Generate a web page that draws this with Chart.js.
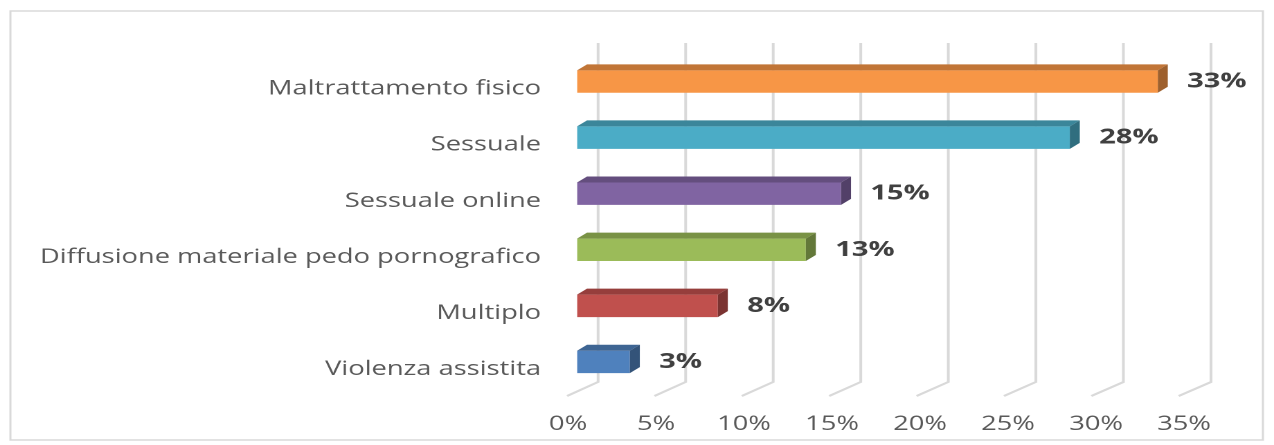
<!DOCTYPE html>
<html lang="it">
  <head>
    <meta charset="UTF-8" />
    <title>Tipologie di abuso</title>
    <script src="https://cdn.jsdelivr.net/npm/chart.js"></script>
    <style>
      body {
        margin: 0;
        background: #fff;
      }
    </style>
  </head>
  <body>
    <!-- il grafico originale e' stirato in orizzontale: si disegna a 920 px e si allarga via CSS -->
    <canvas id="grafico" width="920" height="445" style="width:1274px;height:445px"></canvas>

    <script>
      const categorie = [
        "Maltrattamento fisico",
        "Sessuale",
        "Sessuale online",
        "Diffusione materiale pedo pornografico",
        "Multiplo",
        "Violenza assistita",
      ];
      const percentuali = [33, 28, 15, 13, 8, 3];
      const tacche = [0, 5, 10, 15, 20, 25, 30, 35];
      const colori = ["#F79646", "#4BACC6", "#8064A2", "#9BBB59", "#C0504D", "#4F81BD"];

      function scurisci(hex, f) {
        const n = parseInt(hex.slice(1), 16);
        const r = Math.round(((n >> 16) & 255) * f);
        const g = Math.round(((n >> 8) & 255) * f);
        const b = Math.round((n & 255) * f);
        return "rgb(" + r + "," + g + "," + b + ")";
      }

      // profondita' del finto 3D (unita' interne del canvas)
      const DX = 7.2;
      const DY = -6;

      const effetto3d = {
        id: "effetto3d",
        beforeDraw(chart) {
          const ctx = chart.ctx;
          ctx.save();
          ctx.strokeStyle = "#d9d9d9";
          ctx.lineWidth = 1.5;
          ctx.strokeRect(7.5, 11, 904.5, 429);
          ctx.restore();
        },
        beforeDatasetsDraw(chart) {
          const ctx = chart.ctx;
          const x = chart.scales.x;
          const area = chart.chartArea;
          ctx.save();
          ctx.strokeStyle = "#d9d9d9";
          ctx.lineWidth = 2;
          tacche.forEach((v) => {
            const d = x.getPixelForValue(v) - area.left;
            ctx.beginPath();
            ctx.moveTo(area.left + 15.2 + d * 0.995, area.top - 10.5);
            ctx.lineTo(area.left + 15.2 + d * 0.995, area.bottom - 8);
            ctx.lineTo(area.left - 7.2 + d * 0.993, area.bottom + 6);
            ctx.stroke();
          });
          ctx.restore();
        },
        afterDatasetsDraw(chart) {
          const ctx = chart.ctx;
          const meta = chart.getDatasetMeta(0);
          ctx.save();
          meta.data.forEach((bar, i) => {
            const h = bar.height;
            const top = bar.y - h / 2;
            const bot = bar.y + h / 2;
            // faccia superiore
            ctx.fillStyle = scurisci(colori[i], 0.78);
            ctx.beginPath();
            ctx.moveTo(bar.base, top);
            ctx.lineTo(bar.x, top);
            ctx.lineTo(bar.x + DX, top + DY);
            ctx.lineTo(bar.base + DX, top + DY);
            ctx.closePath();
            ctx.fill();
            // faccia laterale
            ctx.fillStyle = scurisci(colori[i], 0.64);
            ctx.beginPath();
            ctx.moveTo(bar.x, top);
            ctx.lineTo(bar.x + DX, top + DY);
            ctx.lineTo(bar.x + DX, bot + DY);
            ctx.lineTo(bar.x, bot);
            ctx.closePath();
            ctx.fill();
            // etichetta del valore
            ctx.fillStyle = "#404040";
            ctx.font = "bold 21px 'Open Sans'";
            ctx.textAlign = "left";
            ctx.textBaseline = "middle";
            ctx.fillText(percentuali[i] + "%", bar.x + DX + 14, bar.y);
          });
          ctx.restore();
        },
      };

      new Chart(document.getElementById("grafico"), {
        type: "bar",
        data: {
          labels: categorie,
          datasets: [
            {
              data: percentuali,
              backgroundColor: colori,
              barPercentage: 0.4,
              categoryPercentage: 1,
            },
          ],
        },
        options: {
          indexAxis: "y",
          responsive: false,
          devicePixelRatio: 2,
          animation: false,
          layout: { padding: { top: 53.5, right: 58.5, bottom: 0, left: 0 } },
          plugins: { legend: { display: false }, tooltip: { enabled: false } },
          scales: {
            x: {
              min: 0,
              max: 35,
              grid: { display: false },
              border: { display: false },
              afterFit: (s) => {
                s.height = 55;
              },
              ticks: {
                stepSize: 5,
                padding: 14.6,
                labelOffset: -6.5,
                color: "#595959",
                font: { family: "'Open Sans'", size: 19.7 },
                callback: (v) => v + "%",
              },
            },
            y: {
              grid: { display: false },
              border: { display: false },
              afterFit: (s) => {
                s.width = 416.7;
              },
              ticks: {
                padding: 18,
                labelOffset: 7.5,
                color: "#595959",
                font: { family: "'Open Sans'", size: 19.7 },
              },
            },
          },
        },
        plugins: [effetto3d],
      });
    </script>
  </body>
</html>
